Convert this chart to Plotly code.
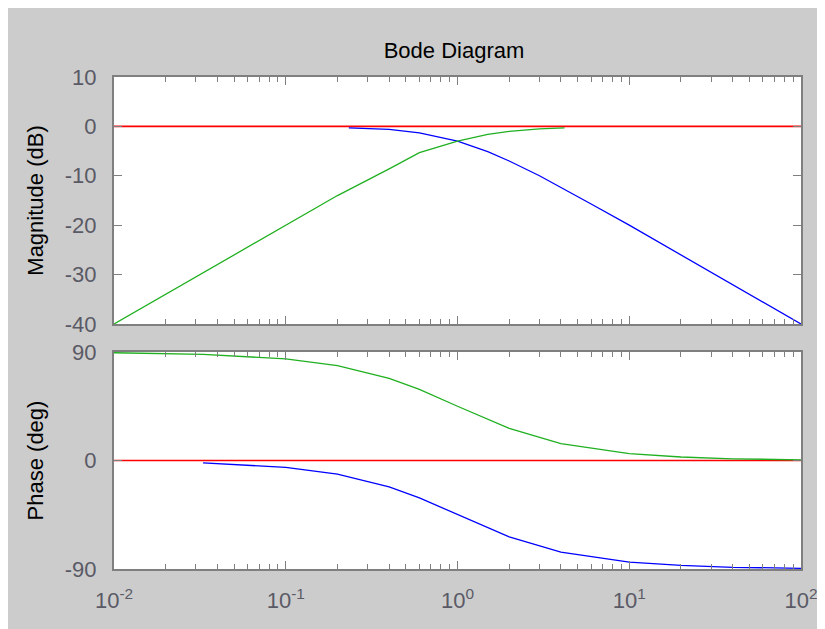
import plotly.graph_objects as go
from plotly.subplots import make_subplots

# ---- data ----
mag_blue_w = [0.233, 0.4, 0.6, 1.0, 1.5, 2.0, 3.0, 4.0, 6.0, 10, 20, 40, 70, 100]
mag_blue_db = [-0.3, -0.6, -1.3, -3.0, -5.1, -7.0, -10.0, -12.3, -15.7, -20.0, -26.0, -32.0, -37.0, -40.0]

mag_green_w = [0.01, 0.03, 0.1, 0.2, 0.4, 0.6, 1.0, 1.5, 2.0, 3.0, 4.2]
mag_green_db = [-40.0, -30.5, -20.0, -14.0, -8.6, -5.3, -3.0, -1.6, -1.0, -0.5, -0.3]

ph_blue_w = [0.033, 0.1, 0.2, 0.4, 0.6, 1.0, 2.0, 4.0, 10, 20, 40, 100]
ph_blue_deg = [-1.9, -5.7, -11.3, -21.8, -31.0, -45.0, -63.4, -76.0, -84.3, -87.0, -88.6, -89.4]

ph_green_w = [0.01, 0.033, 0.1, 0.2, 0.4, 0.6, 1.0, 2.0, 4.0, 10, 20, 40, 100]
ph_green_deg = [89.4, 88.1, 84.3, 78.7, 68.2, 59.0, 45.0, 26.6, 14.0, 5.7, 2.9, 1.4, 0.6]

ref_w = [0.01, 100]
ref_val = [0, 0]

mag_ticks = [-40, -30, -20, -10, 0, 10]
mag_ticktext = ["-40", "-30", "-20", "-10", "0", "10"]
phase_ticks = [-90, 0, 90]
phase_ticktext = ["-90", "0", "90"]
x_tickvals = [0.01, 0.1, 1, 10, 100]
x_ticktext = ["10<sup>-2</sup>", "10<sup>-1</sup>", "10<sup>0</sup>", "10<sup>1</sup>", "10<sup>2</sup>"]
x_minor = [m * d for d in [0.01, 0.1, 1, 10] for m in range(2, 10)]

RED = "#ff0000"
BLUE = "#0000ff"
GREEN = "#20b020"
FRAME = "#7f7f7f"
FAM = "Liberation Sans, Arial, sans-serif"
TICKFONT = dict(family=FAM, size=22, color="#5a5a66")

fig = make_subplots(rows=2, cols=1, shared_xaxes=False, vertical_spacing=0.057,
                    row_heights=[0.502, 0.441])

# magnitude
fig.add_trace(go.Scatter(x=ref_w, y=ref_val, mode="lines", line=dict(color=RED, width=1.6),
                         showlegend=False, hoverinfo="skip"), row=1, col=1)
fig.add_trace(go.Scatter(x=mag_blue_w, y=mag_blue_db, mode="lines", line=dict(color=BLUE, width=1.3),
                         showlegend=False), row=1, col=1)
fig.add_trace(go.Scatter(x=mag_green_w, y=mag_green_db, mode="lines", line=dict(color=GREEN, width=1.3),
                         showlegend=False), row=1, col=1)
# phase
fig.add_trace(go.Scatter(x=ref_w, y=ref_val, mode="lines", line=dict(color=RED, width=1.6),
                         showlegend=False, hoverinfo="skip"), row=2, col=1)
fig.add_trace(go.Scatter(x=ph_blue_w, y=ph_blue_deg, mode="lines", line=dict(color=BLUE, width=1.3),
                         showlegend=False), row=2, col=1)
fig.add_trace(go.Scatter(x=ph_green_w, y=ph_green_deg, mode="lines", line=dict(color=GREEN, width=1.3),
                         showlegend=False), row=2, col=1)

xcommon = dict(type="log", range=[-2, 2], showgrid=False, zeroline=False,
               showline=True, linecolor=FRAME, linewidth=2, mirror="ticks",
               ticks="inside", ticklen=8, tickcolor=FRAME, tickwidth=1,
               tickmode="array", tickvals=x_tickvals,
               minor=dict(ticks="inside", ticklen=5, tickcolor=FRAME, tickwidth=1, showgrid=False,
                          tickmode="array", tickvals=x_minor))
fig.update_xaxes(**xcommon, showticklabels=False, row=1, col=1)
fig.update_xaxes(**xcommon, ticktext=x_ticktext, showticklabels=True, tickfont=TICKFONT,
                 ticklabelstandoff=11, row=2, col=1)

ycommon = dict(showgrid=False, zeroline=False, showline=True, linecolor=FRAME, linewidth=2,
               mirror="ticks", ticks="inside", ticklen=8, tickcolor=FRAME, tickwidth=1,
               tickfont=TICKFONT, ticklabelstandoff=11, tickmode="array")
fig.update_yaxes(**ycommon, range=[-40, 10], tickvals=mag_ticks, ticktext=mag_ticktext,
                 title=dict(text="Magnitude (dB)", font=dict(family=FAM, size=22, color="#000000"),
                            standoff=15),
                 row=1, col=1)
fig.update_yaxes(**ycommon, range=[-90, 90], tickvals=phase_ticks, ticktext=phase_ticktext,
                 title=dict(text="Phase (deg)", font=dict(family=FAM, size=22, color="#000000"),
                            standoff=15),
                 row=2, col=1)

# page body has an 8px margin; figure placed at (8, 8)
OFF = 8
L, R, T, B = 114 - OFF, 24, 77 - OFF, 60
W, H = 825 - OFF, 629 - OFF
pw, ph = W - L - R, H - T - B

fig.update_layout(
    width=W, height=H,
    margin=dict(l=L, r=R, t=T, b=B, autoexpand=False),
    paper_bgcolor="#cccccc",
    plot_bgcolor="#ffffff",
    font=dict(family=FAM, size=22, color="#000000"),
    title=dict(text="Bode Diagram", x=(454 - OFF - L) / pw, xref="paper", xanchor="center",
               y=1 - (50 - OFF) / H, yanchor="middle",
               font=dict(family=FAM, size=22, color="#000000")),
)

fig.write_html("out.html")
